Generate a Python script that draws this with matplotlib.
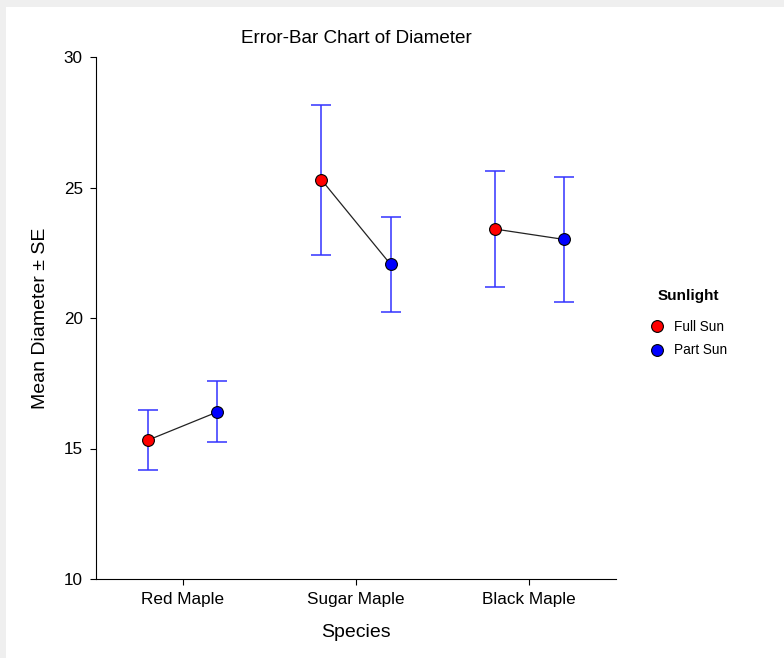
import matplotlib.pyplot as plt
import matplotlib.patches as mpatches
import numpy as np

plt.rcParams['font.family'] = ['Liberation Sans', 'DejaVu Sans']

species = ['Red Maple', 'Sugar Maple', 'Black Maple']
full_sun_mean = [15.32, 25.30, 23.41]
full_sun_se = [1.14, 2.88, 2.21]
part_sun_mean = [16.40, 22.05, 23.01]
part_sun_se = [1.17, 1.83, 2.38]

fig = plt.figure(figsize=(7.84, 6.58), dpi=100, facecolor='#efefef')
# white panel, leaving the thin grey frame on top and left
bg = mpatches.Rectangle((6 / 784, 0), 1, (658 - 7) / 658, transform=fig.transFigure,
                        facecolor='white', edgecolor='none', zorder=-10)
fig.add_artist(bg)

ax = fig.add_axes([96 / 784, 79 / 658, 520 / 784, 522 / 658])
ax.set_zorder(1)
ax.set_facecolor('white')

x = np.arange(len(species))
off = 0.2

# lines joining the two means inside each species
for i in range(len(species)):
    ax.plot([x[i] - off, x[i] + off], [full_sun_mean[i], part_sun_mean[i]],
            color='#222222', lw=0.9, zorder=2)

ax.errorbar(x - off, full_sun_mean, yerr=full_sun_se, fmt='none', ecolor='#3333ff',
            elinewidth=1.1, capsize=7, capthick=1.1, zorder=1)
ax.errorbar(x + off, part_sun_mean, yerr=part_sun_se, fmt='none', ecolor='#3333ff',
            elinewidth=1.1, capsize=7, capthick=1.1, zorder=1)

ax.plot(x - off, full_sun_mean, 'o', color='red', mec='black', mew=0.8, ms=8.5,
        label='Full Sun', zorder=3)
ax.plot(x + off, part_sun_mean, 'o', color='blue', mec='black', mew=0.8, ms=8.5,
        label='Part Sun', zorder=3)

ax.set_xlim(-0.5, 2.5)
ax.set_ylim(10, 30)
ax.set_yticks([10, 15, 20, 25, 30])
ax.set_xticks(x)
ax.set_xticklabels(species)
ax.tick_params(axis='both', labelsize=12.3, length=4.5, width=0.8, direction='out')
ax.tick_params(axis='y', pad=5)
ax.tick_params(axis='x', pad=5)

for s in ['top', 'right']:
    ax.spines[s].set_visible(False)
for s in ['left', 'bottom']:
    ax.spines[s].set_linewidth(0.8)

ax.set_title('Error-Bar Chart of Diameter', fontsize=13.6, pad=10)
ax.set_xlabel('Species', fontsize=14, labelpad=12)
ax.set_ylabel('Mean Diameter \u00b1 SE', fontsize=14, labelpad=11)

leg = ax.legend(title='Sunlight', loc='upper left', bbox_to_anchor=(637 / 784, 1 - 277 / 658),
                bbox_transform=fig.transFigure, frameon=False, fontsize=9.8,
                handletextpad=0.6, labelspacing=0.7, handlelength=1.2)
leg.get_title().set_fontweight('bold')
leg.get_title().set_fontsize(11)
leg._legend_box.sep = 12

fig.savefig('out.png', dpi=100, facecolor=fig.get_facecolor())
